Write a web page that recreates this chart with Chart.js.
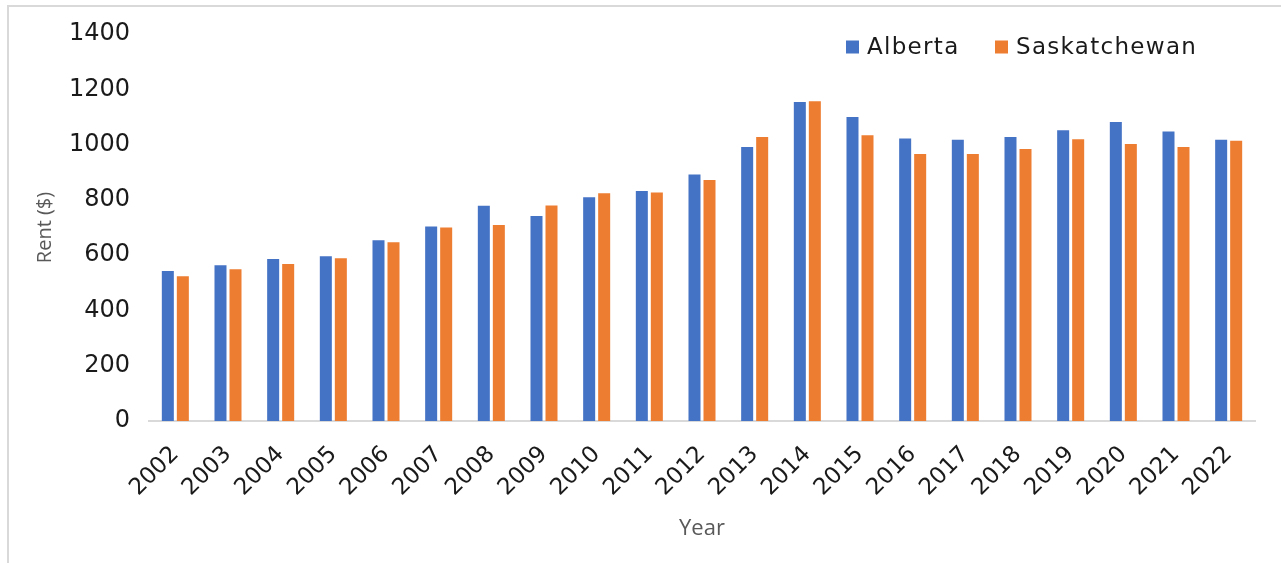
<!DOCTYPE html>
<html>
<head>
  <meta charset="UTF-8">
  <title>Average Rent: Alberta vs Saskatchewan</title>
  <script src="https://cdn.jsdelivr.net/npm/chart.js"></script>
  <style>
    * { margin: 0; padding: 0; box-sizing: border-box; }
    html, body { width: 1281px; height: 563px; overflow: hidden; background: #ffffff; }
    .frame { position: absolute; left: 7px; top: 5px; width: 1290px; height: 600px; border: 2px solid #d9d9d9; }
    .wrap { position: absolute; left: 0; top: 0; width: 1281px; height: 563px; }
  </style>
</head>
<body>
  <div class="frame"></div>
  <div class="wrap"><canvas id="rentChart"></canvas></div>

  <script>
    const years = ["2002", "2003", "2004", "2005", "2006", "2007", "2008", "2009", "2010", "2011", "2012",
                   "2013", "2014", "2015", "2016", "2017", "2018", "2019", "2020", "2021", "2022"];
    const alberta = [543, 563, 586, 596, 654, 704, 779, 742, 809, 832, 892,
                     991, 1154, 1100, 1022, 1017, 1027, 1052, 1082, 1047, 1017];
    const saskatchewan = [524, 549, 568, 589, 647, 700, 709, 780, 824, 827, 872,
                          1027, 1157, 1034, 966, 966, 984, 1019, 1002, 991, 1014];
    const yTicks = [0, 200, 400, 600, 800, 1000, 1200, 1400];

    // legend sits inside the plot area, top right; x = left edge of each swatch
    const legendSlots = [846, 995];
    const cornerLegend = {
      id: "cornerLegend",
      afterDraw(chart) {
        const ctx = chart.ctx;
        const box = 13, y = 47;
        ctx.save();
        ctx.font = "23px 'DejaVu Sans'";
        ctx.letterSpacing = "1.3px";
        ctx.textBaseline = "middle";
        chart.data.datasets.forEach((ds, i) => {
          const x = legendSlots[i];
          ctx.fillStyle = ds.backgroundColor;
          ctx.fillRect(x, y - box / 2, box, box);
          ctx.fillStyle = "#1a1a1a";
          ctx.fillText(ds.label, x + box + 8, y + 1);
        });
        ctx.restore();
      }
    };

    new Chart(document.getElementById("rentChart"), {
      type: "bar",
      data: {
        labels: years,
        datasets: [
          { label: "Alberta", data: alberta, backgroundColor: "#4472C4" },
          { label: "Saskatchewan", data: saskatchewan, backgroundColor: "#ED7D31" }
        ]
      },
      plugins: [cornerLegend],
      options: {
        responsive: true,
        maintainAspectRatio: false,
        animation: false,
        layout: { padding: { left: 0, top: 34, right: 26, bottom: 0 } },
        datasets: { bar: { categoryPercentage: 0.57, barPercentage: 0.8 } },
        plugins: { legend: { display: false }, tooltip: { enabled: false } },
        scales: {
          x: {
            grid: { display: false, drawTicks: false },
            border: { display: true, color: "#d9d9d9", width: 2 },
            ticks: {
              color: "#1a1a1a",
              font: { family: "'DejaVu Sans'", size: 23 },
              maxRotation: 45,
              minRotation: 45,
              padding: 20,
              autoSkip: false
            },
            title: {
              display: true,
              text: "Year",
              color: "#595959",
              font: { family: "'Open Sans'", size: 22 },
              padding: { top: 0, bottom: 21 }
            },
            afterFit(scale) { scale.height = 142; }
          },
          y: {
            min: 0,
            max: 1400,
            afterBuildTicks(scale) { scale.ticks = yTicks.map(v => ({ value: v })); },
            grid: { display: false, drawTicks: false },
            border: { display: false },
            ticks: {
              color: "#1a1a1a",
              font: { family: "'DejaVu Sans'", size: 24 },
              padding: 19,
              callback: (v) => String(v)
            },
            title: {
              display: true,
              text: "Rent ($)",
              color: "#595959",
              font: { family: "'Open Sans'", size: 20 },
              padding: { top: 33, bottom: 0 }
            },
            afterFit(scale) { scale.width = 149; }
          }
        }
      }
    });
  </script>
</body>
</html>
